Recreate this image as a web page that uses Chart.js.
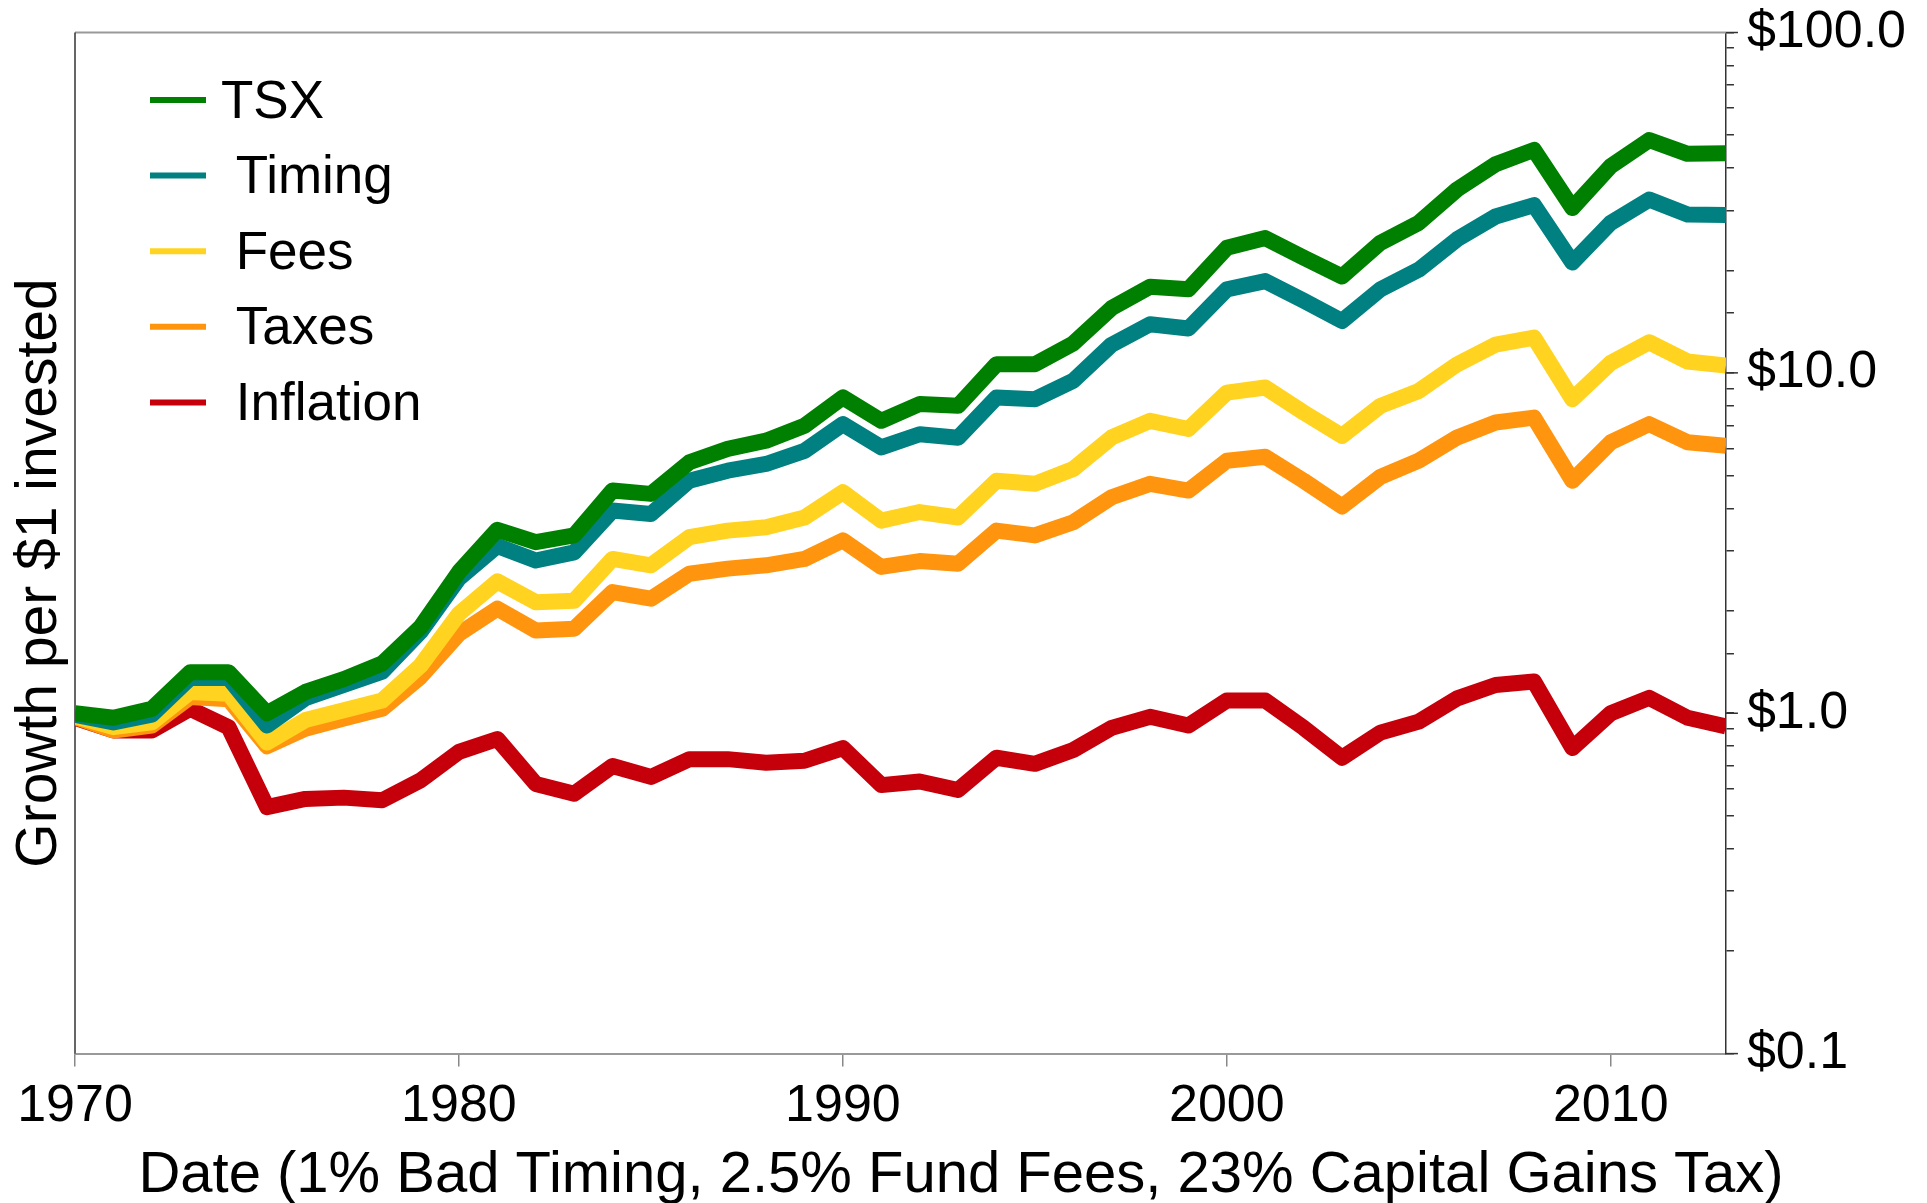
<!DOCTYPE html>
<html>
<head>
<meta charset="utf-8">
<title>Growth per $1 invested</title>
<script src="https://cdn.jsdelivr.net/npm/chart.js@4.4.1/dist/chart.umd.min.js"></script>
<style>
    html, body { margin: 0; padding: 0; background: #fff; }
    #wrap { width: 1927px; height: 1203px; }
</style>
</head>
<body>
<div id="wrap"><canvas id="growthChart" width="1927" height="1203"></canvas></div>
<script>
// data, one value per year
const years = [1970, 1971, 1972, 1973, 1974, 1975, 1976, 1977, 1978, 1979,
               1980, 1981, 1982, 1983, 1984, 1985, 1986, 1987, 1988, 1989,
               1990, 1991, 1992, 1993, 1994, 1995, 1996, 1997, 1998, 1999,
               2000, 2001, 2002, 2003, 2004, 2005, 2006, 2007, 2008, 2009,
               2010, 2011, 2012, 2013];

const seriesNames = ['TSX', ' Timing', ' Fees', ' Taxes', ' Inflation'];
const seriesColors = ['#008000', '#008080', '#ffd320', '#ff950e', '#c5000b'];

const tsx = [1.0, 0.97, 1.03, 1.32, 1.32, 1.0, 1.155, 1.26, 1.40, 1.79,
             2.60, 3.46, 3.18, 3.33, 4.51, 4.41, 5.46, 5.98, 6.32, 6.99,
             8.47, 7.23, 8.1, 8.0, 10.6, 10.6, 12.2, 15.5, 17.9, 17.6,
             23.3, 24.9, 21.8, 19.2, 24.1, 27.6, 34.6, 41.0, 45.2, 30.5,
             40.5, 48.3, 44.0, 44.2];
const timing = [0.99, 0.94, 0.99, 1.27, 1.27, 0.92, 1.107, 1.21, 1.325, 1.735,
                2.49, 3.1, 2.81, 2.97, 3.94, 3.85, 4.82, 5.16, 5.40, 5.9,
                7.07, 6.04, 6.6, 6.45, 8.47, 8.37, 9.48, 12.1, 13.9, 13.5,
                17.6, 18.6, 16.3, 14.2, 17.6, 20.1, 24.7, 28.8, 31.1, 21.1,
                27.6, 32.3, 29.2, 29.1];
const fees = [0.98, 0.91, 0.94, 1.155, 1.14, 0.82, 0.955, 1.02, 1.09, 1.38,
              1.96, 2.44, 2.12, 2.14, 2.84, 2.72, 3.29, 3.44, 3.52, 3.76,
              4.46, 3.68, 3.9, 3.76, 4.82, 4.72, 5.22, 6.46, 7.23, 6.84,
              8.75, 9.06, 7.65, 6.53, 8.0, 8.85, 10.6, 12.1, 12.7, 8.37,
              10.7, 12.3, 10.8, 10.5];
const taxes = [0.975, 0.89, 0.92, 1.116, 1.10, 0.80, 0.90, 0.965, 1.03, 1.28,
               1.71, 2.03, 1.75, 1.77, 2.27, 2.17, 2.57, 2.66, 2.72, 2.84,
               3.22, 2.69, 2.8, 2.75, 3.44, 3.33, 3.64, 4.31, 4.72, 4.51,
               5.52, 5.67, 4.82, 4.05, 4.95, 5.52, 6.46, 7.15, 7.39, 4.82,
               6.25, 7.07, 6.25, 6.11];
const inflation = [0.97, 0.89, 0.89, 1.03, 0.91, 0.53, 0.56, 0.565, 0.555, 0.635,
                   0.77, 0.84, 0.62, 0.58, 0.70, 0.65, 0.733, 0.733, 0.715, 0.725,
                   0.79, 0.615, 0.63, 0.595, 0.74, 0.71, 0.78, 0.906, 0.976, 0.92,
                   1.09, 1.09, 0.906, 0.74, 0.877, 0.945, 1.106, 1.21, 1.24, 0.79,
                   1.0, 1.11, 0.97, 0.915];

const xTicks = [1970, 1980, 1990, 2000, 2010];
const yMajorTicks = [0.1, 1, 10, 100];

const xTitle = 'Date (1% Bad Timing, 2.5% Fund Fees, 23% Capital Gains Tax)';
const yTitle = 'Growth per $1 invested';

const FONT = "'Liberation Sans', Arial, sans-serif";

function isMajor(v) {
    const l = Math.log10(v);
    return Math.abs(l - Math.round(l)) < 1e-6;
}

// left + top frame lines, drawn under the data
const framePlugin = {
    id: 'frame',
    beforeDatasetsDraw(chart) {
        const a = chart.chartArea;
        const ctx = chart.ctx;
        ctx.save();
        ctx.lineWidth = 2;
        ctx.strokeStyle = '#999999';
        ctx.beginPath();
        ctx.moveTo(a.left, a.top);
        ctx.lineTo(a.right, a.top);
        ctx.stroke();
        ctx.strokeStyle = '#333333';
        ctx.lineWidth = 1.5;
        ctx.beginPath();
        ctx.moveTo(a.left, a.top);
        ctx.lineTo(a.left, a.bottom);
        ctx.stroke();
        ctx.restore();
    }
};

// longer ticks on the decades, axis titles and the legend box
const extrasPlugin = {
    id: 'extras',
    afterDraw(chart) {
        const ctx = chart.ctx;
        const a = chart.chartArea;
        const yScale = chart.scales.y;
        ctx.save();

        ctx.strokeStyle = '#333333';
        ctx.lineWidth = 1.5;
        yMajorTicks.forEach(v => {
            const py = yScale.getPixelForValue(v);
            ctx.beginPath();
            ctx.moveTo(a.right, py);
            ctx.lineTo(a.right + 12, py);
            ctx.stroke();
        });

        ctx.fillStyle = '#000';
        ctx.textAlign = 'center';
        ctx.textBaseline = 'middle';

        // x axis title, centred on the figure
        ctx.font = '58px ' + FONT;
        ctx.fillText(xTitle, 961, 1176);

        // y axis title
        ctx.font = '57px ' + FONT;
        ctx.translate(40, 573);
        ctx.rotate(-Math.PI / 2);
        ctx.fillText(yTitle, 0, 0);
        ctx.setTransform(1, 0, 0, 1, 0, 0);

        // legend
        ctx.font = '53px ' + FONT;
        ctx.textAlign = 'left';
        chart.data.datasets.forEach((ds, i) => {
            const ly = 100 + i * 75.6;
            ctx.strokeStyle = ds.borderColor;
            ctx.lineWidth = 6;
            ctx.beginPath();
            ctx.moveTo(150, ly);
            ctx.lineTo(206, ly);
            ctx.stroke();
            ctx.fillStyle = '#000';
            ctx.fillText(ds.label, 221, ly + 3);
        });
        ctx.restore();
    }
};

const seriesData = [tsx, timing, fees, taxes, inflation];

const ctx = document.getElementById('growthChart').getContext('2d');
new Chart(ctx, {
    type: 'line',
    data: {
        datasets: seriesData.map((vals, i) => ({
            label: seriesNames[i],
            data: years.map((yr, j) => ({ x: yr, y: vals[j] })),
            borderColor: seriesColors[i],
            backgroundColor: seriesColors[i],
            borderWidth: 16,
            borderJoinStyle: 'round',
            pointRadius: 0,
            tension: 0,
            fill: false
        }))
    },
    options: {
        responsive: false,
        animation: false,
        devicePixelRatio: 1,
        layout: { padding: { left: 75, right: 8, top: 0, bottom: 56 } },
        plugins: {
            legend: { display: false },
            tooltip: { enabled: false }
        },
        scales: {
            x: {
                type: 'linear',
                min: 1970,
                max: 2013,
                afterBuildTicks: axis => { axis.ticks = xTicks.map(v => ({ value: v })); },
                ticks: {
                    color: '#000',
                    font: { family: FONT, size: 52 },
                    padding: 9,
                    maxRotation: 0,
                    callback: v => String(v)
                },
                grid: { drawOnChartArea: false, tickLength: 13, color: '#888888', lineWidth: 1.5 },
                border: { color: '#999999', width: 2 }
            },
            y: {
                type: 'logarithmic',
                position: 'right',
                min: 0.1,
                max: 100,
                ticks: {
                    autoSkip: false,
                    color: '#000',
                    font: { family: FONT, size: 52, lineHeight: 0.75 },
                    padding: 13,
                    callback: v => isMajor(v) ? '$' + Number(v).toFixed(1) : ''
                },
                grid: { drawOnChartArea: false, tickLength: 8, color: '#333333', lineWidth: 1.5 },
                border: { color: '#333333', width: 1.5 }
            }
        }
    },
    plugins: [framePlugin, extrasPlugin]
});
</script>
</body>
</html>
